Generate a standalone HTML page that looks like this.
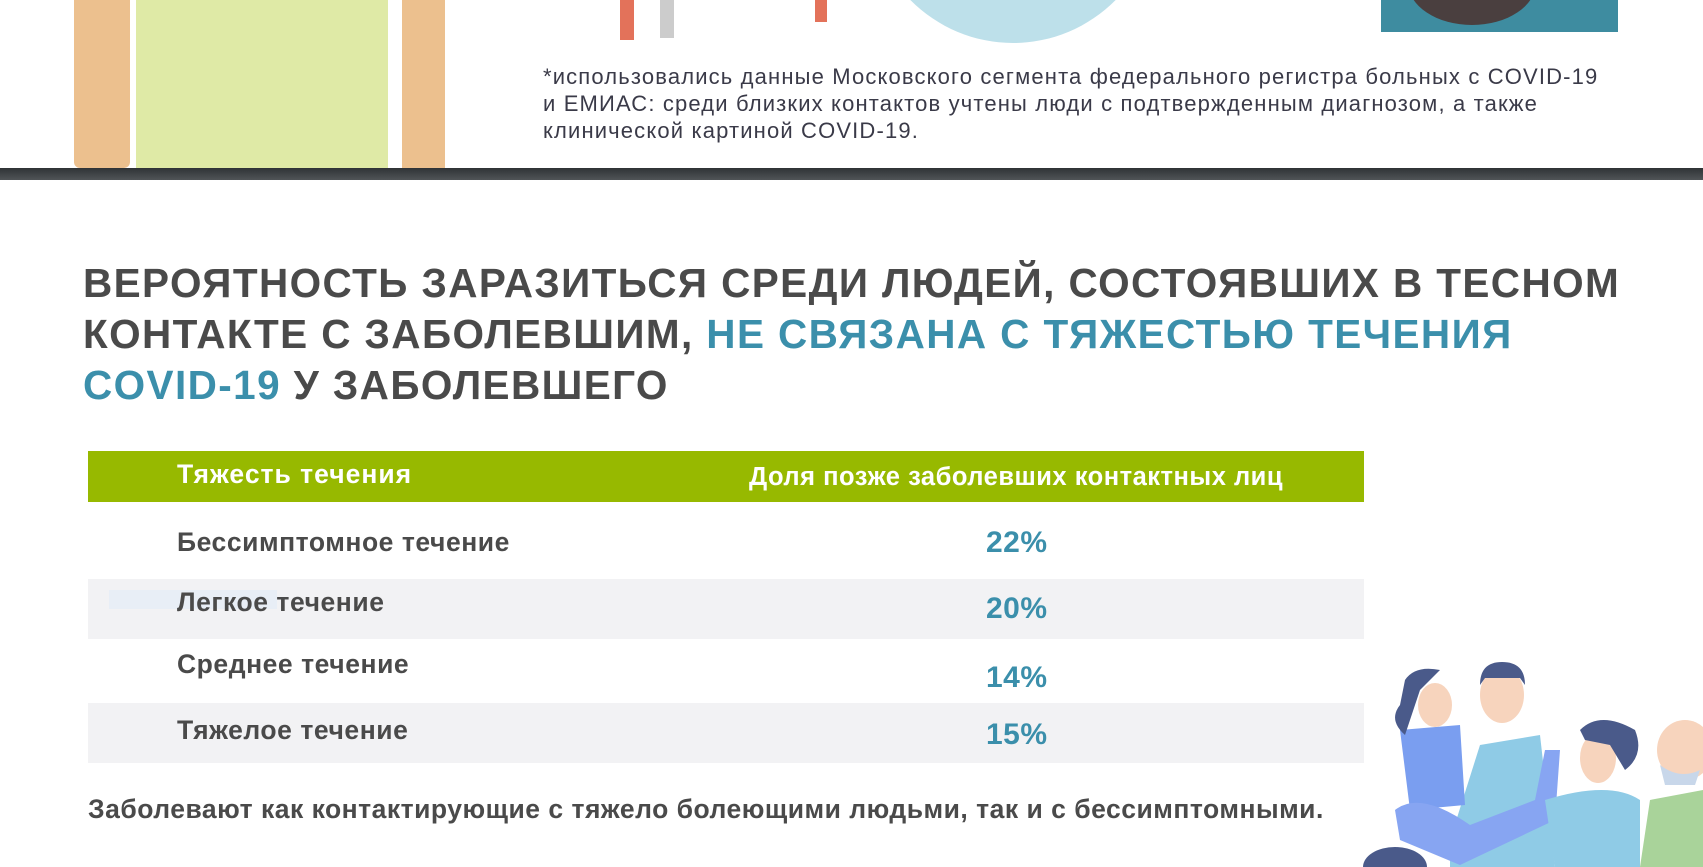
<!DOCTYPE html>
<html><head><meta charset="utf-8"><style>
body{margin:0;width:1703px;height:867px;overflow:hidden;background:#fff;position:relative;font-family:"Liberation Sans","Noto Sans CJK SC",sans-serif}
.a{position:absolute}
.t{font-weight:bold;color:#4a4a4a;font-size:40.5px;letter-spacing:1.4px;line-height:51px;left:83px;top:258px;text-transform:uppercase;white-space:nowrap}
.b{color:#3b8fab}
.lab{left:177px;font-size:26.5px;font-weight:bold;color:#4a4a4a;white-space:nowrap;letter-spacing:0.55px}
.val{left:986px;font-size:30px;font-weight:bold;color:#3b8fab;letter-spacing:0.5px}
</style></head><body>
<div class="a" style="left:74px;top:0;width:56px;height:168px;background:#ecc08e;border-radius:0 0 6px 6px"></div>
<div class="a" style="left:136px;top:0;width:252px;height:168px;background:#dfeaa6"></div>
<div class="a" style="left:402px;top:0;width:43px;height:168px;background:#ecc08e"></div>
<div class="a" style="left:868px;top:-250px;width:290px;height:293px;border-radius:50%;background:#bde0ea"></div>
<div class="a" style="left:620px;top:0;width:14px;height:40px;background:#e3725a"></div>
<div class="a" style="left:660px;top:0;width:14px;height:38px;background:#ccc"></div>
<div class="a" style="left:815px;top:0;width:12px;height:22px;background:#e3725a"></div>
<div class="a" style="left:1381px;top:0;width:237px;height:32px;background:#3e8ca0"></div>
<div class="a" style="left:1408px;top:-60px;width:128px;height:85px;border-radius:50%;background:#4a3f3f"></div>
<div class="a" style="left:543px;top:63px;font-size:22px;line-height:27px;color:#3a3a48;letter-spacing:1.15px;white-space:nowrap">*использовались данные Московского сегмента федерального регистра больных с COVID-19<br>и ЕМИАС: среди близких контактов учтены люди с подтвержденным диагнозом, а также<br>клинической картиной COVID-19.</div>
<div class="a" style="left:0;top:168px;width:1703px;height:12px;background:linear-gradient(#2f3336,#505457)"></div>

<div class="a t">Вероятность заразиться среди людей, состоявших в тесном<br>контакте с заболевшим, <span class="b">не связана с тяжестью течения<br>COVID-19</span> у заболевшего</div>

<div class="a" style="left:88px;top:451px;width:1276px;height:51px;background:#97b900"></div>
<div class="a" style="left:177px;top:459px;font-size:26.5px;font-weight:bold;color:#fff;letter-spacing:1px">Тяжесть течения</div>
<div class="a" style="left:749px;top:463px;font-size:25.5px;font-weight:bold;color:#fff;letter-spacing:0.5px;white-space:nowrap">Доля позже заболевших контактных лиц</div>
<div class="a" style="left:88px;top:579px;width:1276px;height:60px;background:#f2f2f4"></div>
<div class="a" style="left:88px;top:703px;width:1276px;height:60px;background:#f2f2f4"></div>
<div class="a" style="left:109px;top:590px;width:168px;height:19px;background:#e8eef6"></div>
<div class="a lab" style="top:527px">Бессимптомное течение</div>
<div class="a lab" style="top:587px">Легкое течение</div>
<div class="a lab" style="top:649px">Среднее течение</div>
<div class="a lab" style="top:715px">Тяжелое течение</div>
<div class="a val" style="top:526px">22%</div>
<div class="a val" style="top:592px">20%</div>
<div class="a val" style="top:661px">14%</div>
<div class="a val" style="top:718px">15%</div>
<div class="a" style="left:88px;top:794px;font-size:26.5px;font-weight:bold;color:#4a4a4a;letter-spacing:0.5px;white-space:nowrap">Заболевают как контактирующие с тяжело болеющими людьми, так и с бессимптомными.</div>

<svg class="a" style="left:1340px;top:640px" width="363" height="227">
<path d="M110 200 L140 105 L200 95 L215 227 L110 227Z" fill="#8fcbe6"/>
<path d="M60 90 L120 85 L125 165 L70 170Z" fill="#7a9ef0"/>
<path d="M55 170 Q80 150 130 185 L195 160 L205 110 L220 110 L215 180 L120 225 L60 200Z" fill="#87a5f2"/>
<ellipse cx="162" cy="55" rx="22" ry="28" fill="#f7d4bd"/>
<path d="M140 45 Q140 22 162 22 Q185 22 185 45 L180 38 L145 38Z" fill="#4a5a8a"/>
<ellipse cx="95" cy="65" rx="17" ry="22" fill="#f7d4bd"/>
<path d="M65 40 Q75 25 100 30 L80 50 L65 95 Q48 80 60 65Z" fill="#4a5a8a"/>
<path d="M205 160 Q270 140 300 160 L300 227 L215 227Z" fill="#8fcbe6"/>
<ellipse cx="258" cy="118" rx="18" ry="25" fill="#f7d4bd"/>
<path d="M240 90 Q260 70 295 90 Q305 115 285 130 L270 105 L245 100Z" fill="#4a5a8a"/>
<path d="M310 160 L363 150 L363 227 L300 227Z" fill="#a9d39a"/>
<ellipse cx="345" cy="110" rx="28" ry="30" fill="#f7d4bd"/>
<path d="M320 125 Q340 140 360 130 L355 145 L325 145Z" fill="#c8d7ea"/>
<ellipse cx="55" cy="227" rx="32" ry="20" fill="#4a5a8a"/>
</svg>
</body></html>
